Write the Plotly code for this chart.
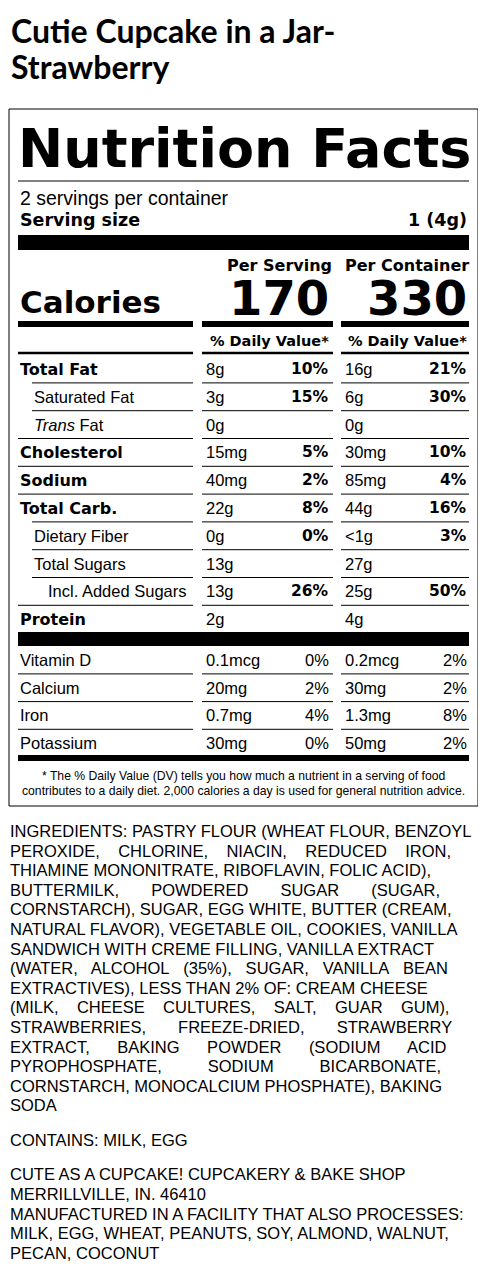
import plotly.graph_objects as go

# ---- label data ----
product_title = ["Cutie Cupcake in a Jar-", "Strawberry"]
servings_text = "2 servings per container"
serving_size = "1 (4g)"
calories_serving = "170"
calories_container = "330"

nutrients = ["Total Fat", "Saturated Fat", "<i>Trans</i> Fat", "Cholesterol", "Sodium",
             "Total Carb.", "Dietary Fiber", "Total Sugars", "Incl. Added Sugars", "Protein"]
nutrient_bold = [True, False, False, True, True, True, False, False, False, True]
nutrient_indent = [0, 1, 1, 0, 0, 0, 1, 1, 2, 0]
amount_serving = ["8g", "3g", "0g", "15mg", "40mg", "22g", "0g", "13g", "13g", "2g"]
dv_serving = ["10%", "15%", "", "5%", "2%", "8%", "0%", "", "26%", ""]
amount_container = ["16g", "6g", "0g", "30mg", "85mg", "44g", "<1g", "27g", "25g", "4g"]
dv_container = ["21%", "30%", "", "10%", "4%", "16%", "3%", "", "50%", ""]

vitamins = ["Vitamin D", "Calcium", "Iron", "Potassium"]
vit_amount_serving = ["0.1mcg", "20mg", "0.7mg", "30mg"]
vit_dv_serving = ["0%", "2%", "4%", "0%"]
vit_amount_container = ["0.2mcg", "30mg", "1.3mg", "50mg"]
vit_dv_container = ["2%", "2%", "8%", "2%"]

footnote = ["* The % Daily Value (DV) tells you how much a nutrient in a serving of food",
            "contributes to a daily diet. 2,000 calories a day is used for general nutrition advice."]

ingredient_lines = [
    "INGREDIENTS: PASTRY FLOUR (WHEAT FLOUR, BENZOYL",
    "PEROXIDE,    CHLORINE,    NIACIN,    REDUCED    IRON,",
    "THIAMINE MONONITRATE, RIBOFLAVIN, FOLIC ACID),",
    "BUTTERMILK,       POWDERED       SUGAR       (SUGAR,",
    "CORNSTARCH), SUGAR, EGG WHITE, BUTTER (CREAM,",
    "NATURAL FLAVOR), VEGETABLE OIL, COOKIES, VANILLA",
    "SANDWICH WITH CREME FILLING, VANILLA EXTRACT",
    "(WATER,   ALCOHOL   (35%),   SUGAR,   VANILLA   BEAN",
    "EXTRACTIVES), LESS THAN 2% OF: CREAM CHEESE",
    "(MILK,    CHEESE    CULTURES,    SALT,    GUAR    GUM),",
    "STRAWBERRIES,       FREEZE-DRIED,       STRAWBERRY",
    "EXTRACT,      BAKING      POWDER      (SODIUM      ACID",
    "PYROPHOSPHATE,          SODIUM          BICARBONATE,",
    "CORNSTARCH, MONOCALCIUM PHOSPHATE), BAKING",
    "SODA",
]
contains_line = "CONTAINS: MILK, EGG"
maker_lines = [
    "CUTE AS A CUPCAKE! CUPCAKERY & BAKE SHOP",
    "MERRILLVILLE, IN. 46410",
    "MANUFACTURED IN A FACILITY THAT ALSO PROCESSES:",
    "MILK, EGG, WHEAT, PEANUTS, SOY, ALMOND, WALNUT,",
    "PECAN, COCONUT",
]

FONT = "Liberation Sans"
BOLD = "DejaVu Sans"
shapes = []
annotations = []


def text(x, y, s, size=16, bold=False, anchor="left", family=None):
    fam = family or (BOLD if bold else FONT)
    if bold:
        s = "<b>" + s + "</b>"
    annotations.append(dict(x=x, y=y, text=s, xref="x", yref="y", showarrow=False,
                            xanchor=anchor, yanchor="middle",
                            font=dict(family=fam, size=size, color="black")))


def bar(x0, x1, y0, y1):
    shapes.append(dict(type="rect", xref="x", yref="y", x0=x0, x1=x1, y0=y0, y1=y1,
                       fillcolor="black", line=dict(width=0)))


def hline(x0, x1, y, w=1):
    shapes.append(dict(type="line", xref="x", yref="y", x0=x0, x1=x1, y0=y, y1=y,
                       line=dict(color="black", width=w)))


L, R = 18, 469
C1, C2 = 202, 341
E0, E1 = 193, 333

# title
text(9, 30, product_title[0], 32, True, family="Lato")
text(9, 66, product_title[1], 32, True, family="Lato")

# outer box
shapes.append(dict(type="rect", xref="x", yref="y", x0=9, x1=478, y0=109, y1=806,
                   line=dict(color="black", width=1)))

text(16, 148, "Nutrition Facts", 54, True)
hline(L, R, 181)
text(L, 198, servings_text, 19.5)
text(L, 220, "Serving size", 17.5, True)
text(R, 220, serving_size, 17.5, True, "right")
bar(L, R, 235, 250)

text(279, 265, "Per Serving", 16, True, "center")
text(407, 265, "Per Container", 16, True, "center")
text(331, 298, calories_serving, 48, True, "right")
text(R, 298, calories_container, 48, True, "right")
text(L, 302, "Calories", 31, True)
for a, b in [(L, E0), (C1, E1), (C2, R)]:
    bar(a, b, 321, 327)
    hline(a, b, 353, 2.5)
text(331, 341, "% Daily Value*", 14.5, True, "right")
text(R, 341, "% Daily Value*", 14.5, True, "right")
for v in [197, 337]:
    shapes.append(dict(type="line", xref="x", yref="y", x0=v, x1=v, y0=327, y1=757,
                       line=dict(color="white", width=8)))

row_y0, step = 369, 27.8
for i, name in enumerate(nutrients):
    y = row_y0 + i * step
    text(L + 14 * nutrient_indent[i], y, name, 16 if nutrient_bold[i] else 16.5, nutrient_bold[i])
    text(204, y, amount_serving[i], 16.5)
    text(331, y, dv_serving[i], 15.5, True, "right")
    text(343, y, amount_container[i], 16.5)
    text(R, y, dv_container[i], 15.5, True, "right")
    if i < len(nutrients) - 1:
        yl = y + step / 2
        hline(L + (14 if nutrient_indent[i + 1] else 0), E0, yl)
        hline(C1, E1, yl)
        hline(C2, R, yl)
bar(L, R, 632, 646)

vit_y0 = 660
for i, name in enumerate(vitamins):
    y = vit_y0 + i * 27.7
    text(L, y, name, 16.5)
    text(204, y, vit_amount_serving[i], 16.5)
    text(331, y, vit_dv_serving[i], 16.5, False, "right")
    text(343, y, vit_amount_container[i], 16.5)
    text(R, y, vit_dv_container[i], 16.5, False, "right")
    if i < len(vitamins) - 1:
        yl = y + 13.9
        hline(L, E0, yl)
        hline(C1, E1, yl)
        hline(C2, R, yl)
bar(L, R, 755, 761)

text(243, 776, footnote[0], 12.2, anchor="center")
text(243, 791, footnote[1], 12.2, anchor="center")

for i, line in enumerate(ingredient_lines):
    text(8, 831 + i * 19.6, line.replace("  ", "&nbsp; "), 16.5)
text(8, 1140, contains_line, 16.5)
for i, line in enumerate(maker_lines):
    text(8, 1174 + i * 19.8, line, 16.5)

fig = go.Figure()
fig.update_layout(
    width=486, height=1272, margin=dict(l=0, r=0, t=0, b=0),
    plot_bgcolor="white", paper_bgcolor="white",
    xaxis=dict(range=[8, 494], visible=False, fixedrange=True),
    yaxis=dict(range=[1280, 8], visible=False, fixedrange=True),
    shapes=shapes, annotations=annotations, showlegend=False,
)
fig.write_html("out.html")
